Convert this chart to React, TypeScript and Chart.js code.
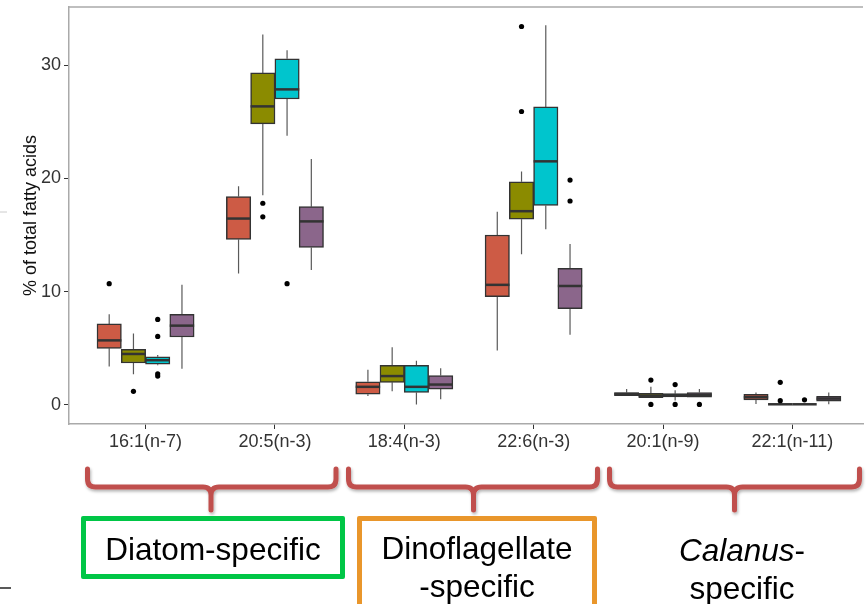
import React, { useEffect, useRef } from 'react';
import { Chart, registerables } from 'chart.js';

Chart.register(...registerables);

const FONT = '"Liberation Sans", Arial, Helvetica, sans-serif';

const categories = ['16:1(n-7)', '20:5(n-3)', '18:4(n-3)', '22:6(n-3)', '20:1(n-9)', '22:1(n-11)'];
const yTicks = [0, 10, 20, 30];
const seriesNames = ['Group 1', 'Group 2', 'Group 3', 'Group 4'];
const seriesColors = ['#CD5B45', '#8B8B00', '#00C5CD', '#8B668B'];

// [lower whisker, Q1, median, Q3, upper whisker] for each category
const group1Boxes = [
  [3.4, 5.0, 5.7, 7.15, 8.0],
  [11.6, 14.6, 16.45, 18.4, 19.3],
  [0.8, 0.95, 1.6, 2.05, 3.1],
  [4.8, 9.55, 10.6, 15.0, 17.05],
  [0.82, 0.82, 0.97, 1.1, 1.4],
  [0.09, 0.44, 0.68, 0.94, 1.1],
];
const group2Boxes = [
  [2.7, 3.7, 4.5, 4.9, 6.3],
  [18.5, 24.8, 26.35, 29.3, 32.7],
  [1.2, 2.0, 2.55, 3.5, 5.1],
  [13.3, 16.4, 17.1, 19.7, 20.6],
  [0.65, 0.65, 0.82, 1.03, 1.6],
  [0.06, 0.06, 0.06, 0.06, 0.06],
];
const group3Boxes = [
  [3.5, 3.6, 3.95, 4.25, 4.4],
  [23.75, 27.0, 27.85, 30.55, 31.3],
  [0.05, 1.1, 1.6, 3.5, 3.9],
  [15.5, 17.6, 21.5, 26.3, 33.5],
  [0.4, 0.7, 0.85, 1.0, 1.3],
  [0.06, 0.06, 0.06, 0.06, 0.06],
];
const group4Boxes = [
  [3.2, 6.0, 7.0, 8.0, 10.6],
  [11.9, 13.9, 16.2, 17.5, 21.7],
  [0.5, 1.4, 1.8, 2.6, 3.25],
  [6.2, 8.5, 10.5, 12.05, 14.2],
  [0.68, 0.68, 0.88, 1.1, 1.4],
  [0.06, 0.33, 0.56, 0.77, 1.1],
];

// outliers: [category index, value]
const group1Outliers = [[0, 10.7]];
const group2Outliers = [[0, 1.2], [1, 17.8], [1, 16.6], [3, 33.4], [3, 25.9], [4, 2.2], [4, 0.05], [5, 2.0], [5, 0.38]];
const group3Outliers = [[0, 7.55], [0, 6.05], [0, 2.75], [0, 2.55], [1, 10.7], [4, 1.8], [4, 0.05], [5, 0.45]];
const group4Outliers = [[3, 19.85], [3, 18.0], [4, 0.05]];

const allBoxes = [group1Boxes, group2Boxes, group3Boxes, group4Boxes];
const allOutliers = [group1Outliers, group2Outliers, group3Outliers, group4Outliers];
const dodge = [-0.28125, -0.09375, 0.09375, 0.28125];

const boxPlugin = {
  id: 'boxParts',
  beforeDatasetsDraw(chart: any) {
    const { ctx, chartArea, scales } = chart;
    const y = scales.y;
    ctx.save();
    // top frame line
    ctx.strokeStyle = '#aaaaaa';
    ctx.lineWidth = 1.5;
    ctx.beginPath();
    ctx.moveTo(chartArea.left, chartArea.top);
    ctx.lineTo(chartArea.right, chartArea.top);
    ctx.stroke();
    // whiskers
    ctx.strokeStyle = '#5a5a5a';
    ctx.lineWidth = 1.2;
    allBoxes.forEach((boxes, s) => {
      const meta = chart.getDatasetMeta(s);
      boxes.forEach((b, i) => {
        const el = meta.data[i];
        if (!el) return;
        const x = el.x;
        ctx.beginPath();
        ctx.moveTo(x, y.getPixelForValue(b[0]));
        ctx.lineTo(x, y.getPixelForValue(b[1]));
        ctx.moveTo(x, y.getPixelForValue(b[3]));
        ctx.lineTo(x, y.getPixelForValue(b[4]));
        ctx.stroke();
      });
    });
    ctx.restore();
  },
  afterDatasetDraw(chart: any, args: any) {
    const s = args.index;
    if (s >= allBoxes.length) return;
    const { ctx, scales } = chart;
    const y = scales.y;
    const meta = chart.getDatasetMeta(s);
    ctx.save();
    ctx.strokeStyle = '#333333';
    ctx.lineWidth = 2.5;
    allBoxes[s].forEach((b, i) => {
      const el = meta.data[i];
      if (!el) return;
      const py = y.getPixelForValue(b[2]);
      ctx.beginPath();
      ctx.moveTo(el.x - el.width / 2, py);
      ctx.lineTo(el.x + el.width / 2, py);
      ctx.stroke();
    });
    ctx.restore();
  },
};

function bracePath(x0: number, x1: number, cx: number) {
  const yt = 469, ym = 487, yb = 510, r = 8;
  return `M ${x0} ${yt} L ${x0} ${ym - r} Q ${x0} ${ym} ${x0 + r} ${ym} L ${cx - r} ${ym} Q ${cx} ${ym} ${cx} ${ym + r} L ${cx} ${yb} M ${cx} ${ym + r} Q ${cx} ${ym} ${cx + r} ${ym} L ${x1 - r} ${ym} Q ${x1} ${ym} ${x1} ${ym - r} L ${x1} ${yt}`;
}

export default function App() {
  const canvasRef = useRef<HTMLCanvasElement | null>(null);

  useEffect(() => {
    if (!canvasRef.current) return;
    const gridOpts = { display: true, drawOnChartArea: false, drawTicks: true, tickLength: 5, color: '#333333', lineWidth: 1, offset: false };
    const borderOpts = { display: true, color: '#aaaaaa', width: 1.5 };
    const chart = new Chart(canvasRef.current, {
      type: 'bar',
      data: {
        datasets: [
          ...allBoxes.map((boxes, s) => ({
            type: 'bar' as const,
            label: seriesNames[s],
            data: boxes.map((b, i) => ({ x: i + dodge[s], y: [b[1], b[3]] })),
            backgroundColor: seriesColors[s],
            borderColor: '#333333',
            borderWidth: 1.5,
            borderSkipped: false,
            barThickness: 24.4,
            grouped: false,
            order: 2,
          })),
          ...allOutliers.map((pts, s) => ({
            type: 'scatter' as const,
            label: seriesNames[s] + ' outliers',
            data: pts.map(([i, v]) => ({ x: i + dodge[s], y: v })),
            pointRadius: 2.6,
            backgroundColor: '#000000',
            borderWidth: 0,
            order: 1,
          })),
        ] as any,
      },
      options: {
        animation: false,
        responsive: false,
        devicePixelRatio: 1,
        layout: { padding: { top: 7, left: 0, right: 0, bottom: 0 } },
        plugins: { legend: { display: false }, tooltip: { enabled: false } },
        scales: {
          x: {
            type: 'linear',
            bounds: 'data',
            offset: false,
            min: -0.592,
            max: 5.546,
            afterBuildTicks: (s: any) => { s.ticks = categories.map((_, i) => ({ value: i })); },
            afterFit: (s: any) => { s.height = 36; s.paddingLeft = 0; s.paddingRight = 0; },
            ticks: {
              callback: (v: any) => categories[Math.round(Number(v))] ?? '',
              font: { family: FONT, size: 18 },
              color: '#333333',
              padding: 2,
              maxRotation: 0,
              autoSkip: false,
            },
            grid: gridOpts,
            border: borderOpts,
          },
          y: {
            type: 'linear',
            bounds: 'data',
            min: -1.68,
            max: 35.12,
            afterBuildTicks: (s: any) => { s.ticks = yTicks.map((v) => ({ value: v })); },
            afterFit: (s: any) => { s.width = 69; s.paddingTop = 0; s.paddingBottom = 0; },
            ticks: {
              font: { family: FONT, size: 18 },
              color: '#333333',
              padding: 3,
            },
            grid: gridOpts,
            border: borderOpts,
            title: {
              display: true,
              text: '% of total fatty acids',
              font: { family: FONT, size: 18 },
              color: '#111111',
              padding: { top: 20, bottom: 0 },
            },
          },
        },
      } as any,
      plugins: [boxPlugin],
    });
    return () => chart.destroy();
  }, []);

  const braceSpecs = [
    [87.5, 336, 211],
    [348.5, 597.5, 473.5],
    [609.5, 859.5, 734.5],
  ];

  const textStyle: React.CSSProperties = {
    position: 'absolute',
    fontFamily: FONT,
    fontSize: 31.5,
    lineHeight: '38px',
    color: '#000',
    textAlign: 'center',
    whiteSpace: 'nowrap',
  };

  return (
    <div style={{ position: 'absolute', left: 0, top: 0, width: 867, height: 604, overflow: 'hidden', background: '#ffffff' }}>
      <canvas ref={canvasRef} width={867} height={460} style={{ position: 'absolute', left: 0, top: 0, width: 867, height: 460 }} />
      <svg width={867} height={604} style={{ position: 'absolute', left: 0, top: 0 }}>
        <defs>
          <filter id="shadow" x="-10%" y="-50%" width="120%" height="200%">
            <feDropShadow dx="1" dy="2" stdDeviation="1.5" floodColor="#000" floodOpacity="0.3" />
          </filter>
        </defs>
        {braceSpecs.map(([x0, x1, cx], i) => (
          <path key={i} d={bracePath(x0, x1, cx)} fill="none" stroke="#C0504D" strokeWidth={5} strokeLinecap="round" strokeLinejoin="round" filter="url(#shadow)" />
        ))}
        <line x1={0} y1={212} x2={7} y2={212} stroke="#cccccc" strokeWidth={1} />
        <line x1={0} y1={588} x2={11} y2={588} stroke="#222222" strokeWidth={1.5} />
      </svg>
      <div style={{ position: 'absolute', left: 81, top: 516, width: 264, height: 63, boxSizing: 'border-box', border: '5px solid #00C646', borderRadius: 2 }} />
      <div style={{ position: 'absolute', left: 357, top: 516, width: 240, height: 120, boxSizing: 'border-box', border: '5px solid #E9962B', borderRadius: 2 }} />
      <div style={{ ...textStyle, left: 81, width: 264, top: 530 }}>Diatom-specific</div>
      <div style={{ ...textStyle, left: 357, width: 240, top: 529 }}>Dinoflagellate<br />-specific</div>
      <div style={{ ...textStyle, left: 622, width: 240, top: 531 }}><i>Calanus</i>-<br />specific</div>
    </div>
  );
}
